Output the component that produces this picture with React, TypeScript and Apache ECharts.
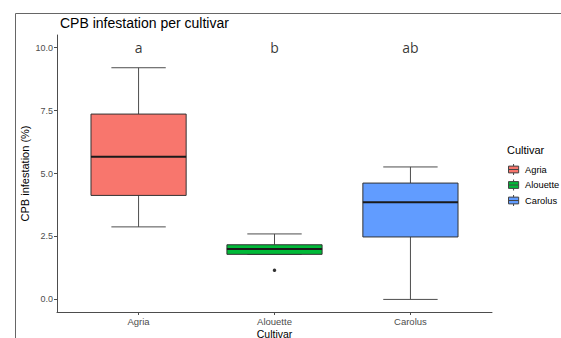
import React, { useEffect, useRef } from "react";
import * as echarts from "echarts";

// Cultivars on the x axis and their fill colours
const cultivars = ["Agria", "Alouette", "Carolus"];
const fillColors = ["#F8766D", "#00BA38", "#619CFF"];

// Five-number summaries of CPB infestation (%) per cultivar
const whiskerLow = [2.88, 1.79, 0.0];
const quartile1 = [4.13, 1.79, 2.48];
const medians = [5.67, 2.0, 3.86];
const quartile3 = [7.36, 2.17, 4.62];
const whiskerHigh = [9.2, 2.6, 5.26];

// Outlying observations
const outlierCultivar = ["Alouette"];
const outlierValue = [1.16];

// Compact letter display of the post-hoc test, printed at y = 10
const groupLetters = ["a", "b", "ab"];
const letterY = 10;

const yTicks = [0, 2.5, 5, 7.5, 10];

const BOX_WIDTH = 0.7;
const CAP_WIDTH = 0.4;
const FONT = "'Liberation Sans', Arial, sans-serif";

const legendIcon = "path://M0,2.5H12V10.5H0Z M0,6.5H12 M6,0V2.5 M6,10.5V13";

export default function App() {
  const ref = useRef<HTMLDivElement>(null);

  useEffect(() => {
    if (!ref.current) return;
    const chart = echarts.init(ref.current, undefined, { renderer: "svg" });

    const boxSeries = cultivars.map((name, i) => ({
      type: "custom",
      name,
      itemStyle: { color: fillColors[i], borderColor: "#333", borderWidth: 1 },
      encode: { x: 0, y: [1, 2, 3, 4, 5] },
      data: [[i + 1, whiskerLow[i], quartile1[i], medians[i], quartile3[i], whiskerHigh[i]]],
      renderItem: (params: any, api: any) => {
        const x = api.value(0);
        const lo = api.coord([x, api.value(1)]);
        const q1 = api.coord([x, api.value(2)]);
        const med = api.coord([x, api.value(3)]);
        const q3 = api.coord([x, api.value(4)]);
        const hi = api.coord([x, api.value(5)]);
        const boxW = api.size([BOX_WIDTH, 0])[0];
        const capW = api.size([CAP_WIDTH, 0])[0];
        const cx = lo[0];
        const whiskerStyle = { stroke: "#4d4d4d", lineWidth: 1, fill: null };
        return {
          type: "group",
          children: [
            { type: "line", shape: { x1: cx, y1: hi[1], x2: cx, y2: q3[1] }, style: whiskerStyle },
            { type: "line", shape: { x1: cx, y1: lo[1], x2: cx, y2: q1[1] }, style: whiskerStyle },
            { type: "line", shape: { x1: cx - capW / 2, y1: hi[1], x2: cx + capW / 2, y2: hi[1] }, style: whiskerStyle },
            { type: "line", shape: { x1: cx - capW / 2, y1: lo[1], x2: cx + capW / 2, y2: lo[1] }, style: whiskerStyle },
            {
              type: "rect",
              shape: { x: cx - boxW / 2, y: q3[1], width: boxW, height: q1[1] - q3[1] },
              style: { fill: fillColors[i], stroke: "#333", lineWidth: 1 },
            },
            {
              type: "line",
              shape: { x1: cx - boxW / 2, y1: med[1], x2: cx + boxW / 2, y2: med[1] },
              style: { stroke: "#1a1a1a", lineWidth: 2 },
            },
          ],
        };
      },
    }));

    chart.setOption({
      animation: false,
      backgroundColor: "#fff",
      title: [
        {
          text: "CPB infestation per cultivar",
          left: 55,
          top: 11,
          textStyle: { fontFamily: FONT, fontSize: 14, fontWeight: "normal", color: "#000" },
        },
        {
          text: "Cultivar",
          left: 502,
          top: 139,
          textStyle: { fontFamily: FONT, fontSize: 11, fontWeight: "normal", color: "#000" },
        },
      ],
      legend: {
        orient: "vertical",
        left: 508,
        top: 163.5,
        padding: 0,
        itemWidth: 11,
        itemHeight: 11,
        itemGap: 3.5,
        icon: legendIcon,
        textStyle: { fontFamily: FONT, fontSize: 9.3, color: "#000", padding: [0, 0, 0, 1] },
        data: cultivars.map((name, i) => ({
          name,
          itemStyle: { color: fillColors[i], borderColor: "#444", borderWidth: 1 },
        })),
      },
      graphic: [
        { type: "line", shape: { x1: 15.5, y1: 13.5, x2: 561, y2: 13.5 }, style: { stroke: "#666", lineWidth: 1 } },
        { type: "line", shape: { x1: 15.5, y1: 13.5, x2: 15.5, y2: 338 }, style: { stroke: "#666", lineWidth: 1 } },
      ],
      grid: { left: 57, top: 35, right: 69, bottom: 26, outerBoundsMode: "none", containLabel: false },
      xAxis: {
        type: "value",
        min: 0.4,
        max: 3.6,
        name: "Cultivar",
        nameLocation: "middle",
        nameGap: 16,
        nameMoveOverlap: false,
        nameTextStyle: { fontFamily: FONT, fontSize: 10.5, color: "#000" },
        axisLine: { onZero: false, lineStyle: { color: "#4d4d4d", width: 1 } },
        axisTick: { customValues: [1, 2, 3], length: 3, lineStyle: { color: "#4d4d4d" } },
        axisLabel: {
          customValues: [1, 2, 3],
          formatter: (v: number) => cultivars[Math.round(v) - 1] ?? "",
          fontFamily: FONT,
          fontSize: 9.5,
          color: "#4d4d4d",
          margin: 4,
        },
        splitLine: { show: false },
      },
      yAxis: {
        type: "value",
        min: -0.5,
        max: 10.5,
        name: "CPB infestation (%)",
        nameLocation: "middle",
        nameGap: 27,
        nameMoveOverlap: false,
        nameTextStyle: { fontFamily: FONT, fontSize: 11, color: "#000" },
        axisLine: { show: true, onZero: false, lineStyle: { color: "#4d4d4d", width: 1 } },
        axisTick: { show: true, customValues: yTicks, length: 3, lineStyle: { color: "#4d4d4d" } },
        axisLabel: {
          customValues: yTicks,
          formatter: (v: number) => v.toFixed(1),
          fontFamily: FONT,
          fontSize: 9,
          color: "#4d4d4d",
          margin: 4,
        },
        splitLine: { show: false },
      },
      series: [
        ...boxSeries,
        {
          type: "scatter",
          name: "outliers",
          symbolSize: 3.5,
          itemStyle: { color: "#000" },
          data: outlierCultivar.map((c, k) => [cultivars.indexOf(c) + 1, outlierValue[k]]),
          z: 5,
        },
        {
          type: "scatter",
          name: "letters",
          symbolSize: 0,
          data: groupLetters.map((l, i) => [i + 1, letterY, l]),
          label: {
            show: true,
            position: "inside",
            formatter: (p: any) => p.value[2],
            fontFamily: "'Open Sans', sans-serif",
            fontSize: 14,
            color: "#000",
          },
        },
      ],
    });

    return () => chart.dispose();
  }, []);

  return (
    <div
      ref={ref}
      style={{ position: "fixed", left: 0, top: 0, width: 561, height: 338, background: "#fff" }}
    />
  );
}
